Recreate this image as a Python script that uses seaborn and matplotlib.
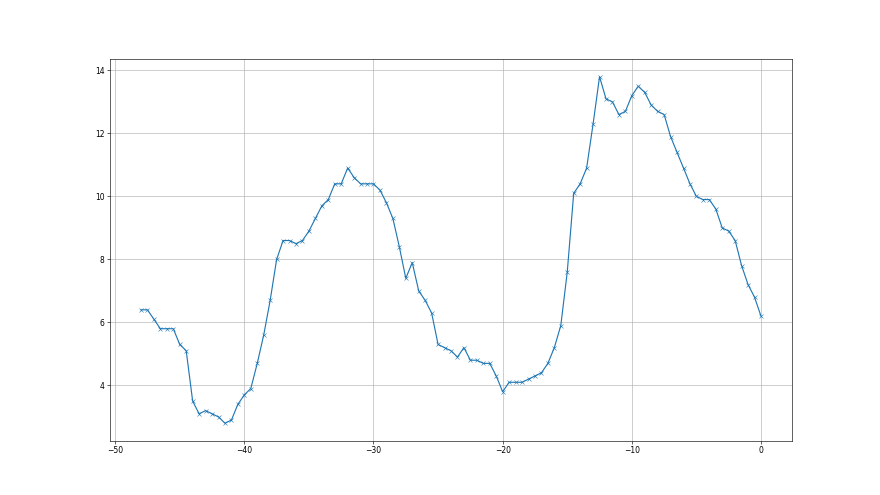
import numpy as np
import pandas as pd
import matplotlib
matplotlib.use("Agg")
import matplotlib.pyplot as plt
import seaborn as sns

# eje x: de -48 a 0 cada 0.5
x_vals = [-48 + 0.5 * i for i in range(97)]

# valores
y_vals = [
    6.4, 6.4, 6.1, 5.8, 5.8, 5.8, 5.3, 5.1, 3.5, 3.1,
    3.2, 3.1, 3.0, 2.8, 2.9, 3.4, 3.7, 3.9, 4.7, 5.6,
    6.7, 8.0, 8.6, 8.6, 8.5, 8.6, 8.9, 9.3, 9.7, 9.9,
    10.4, 10.4, 10.9, 10.6, 10.4, 10.4, 10.4, 10.2, 9.8, 9.3,
    8.4, 7.4, 7.9, 7.0, 6.7, 6.3, 5.3, 5.2, 5.1, 4.9,
    5.2, 4.8, 4.8, 4.7, 4.7, 4.3, 3.8, 4.1, 4.1, 4.1,
    4.2, 4.3, 4.4, 4.7, 5.2, 5.9, 7.6, 10.1, 10.4, 10.9,
    12.3, 13.8, 13.1, 13.0, 12.6, 12.7, 13.2, 13.5, 13.3, 12.9,
    12.7, 12.6, 11.9, 11.4, 10.9, 10.4, 10.0, 9.9, 9.9, 9.6,
    9.0, 8.9, 8.6, 7.8, 7.2, 6.8, 6.2,
]

df = pd.DataFrame({"x": x_vals, "y": y_vals})

plt.figure(figsize=(16, 9), dpi=55)
ax = sns.lineplot(data=df, x="x", y="y", marker="x", color="#1f77b4",
                  markeredgecolor="#1f77b4", markersize=6, linewidth=1.5)
ax.set_xlabel("")
ax.set_ylabel("")
ax.set_xticks([-50, -40, -30, -20, -10, 0])
ax.set_yticks([4, 6, 8, 10, 12, 14])
plt.grid(True)
plt.savefig("out.png", dpi=55)
